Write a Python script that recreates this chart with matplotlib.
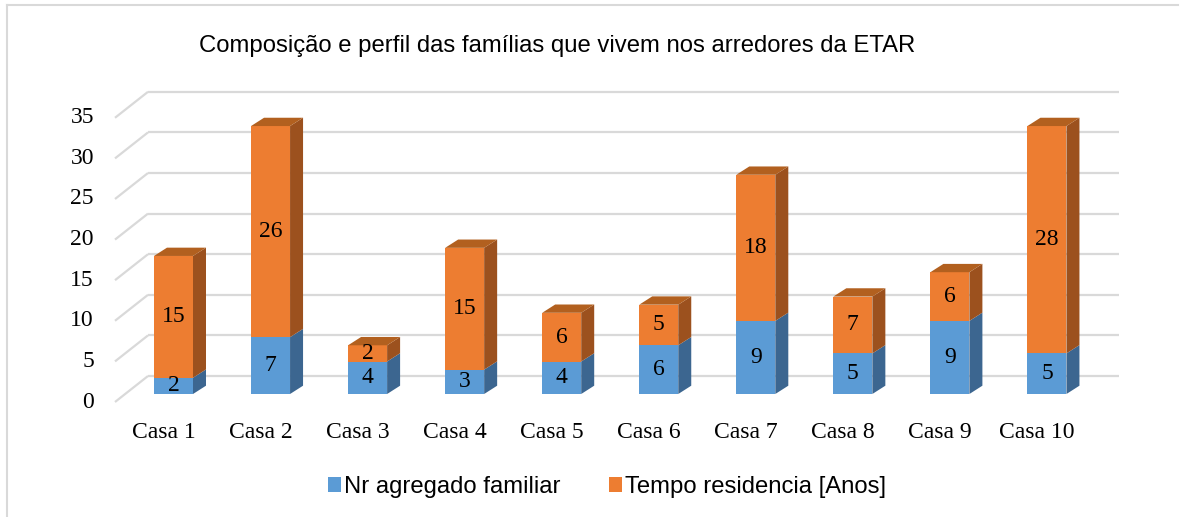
import matplotlib
matplotlib.use("Agg")
import matplotlib.pyplot as plt
from matplotlib.patches import Polygon, Patch
from matplotlib.lines import Line2D

categories = ["Casa 1", "Casa 2", "Casa 3", "Casa 4", "Casa 5",
              "Casa 6", "Casa 7", "Casa 8", "Casa 9", "Casa 10"]
agregado = [2, 7, 4, 3, 4, 6, 9, 5, 9, 5]
tempo = [15, 26, 2, 15, 6, 5, 18, 7, 6, 28]
yticks = [0, 5, 10, 15, 20, 25, 30, 35]
series_names = ["Nr agregado familiar", "Tempo residencia [Anos]"]
title = "Composição e perfil das famílias que vivem nos arredores da ETAR"

W, H = 1188, 517
fig = plt.figure(figsize=(W / 100, H / 100), dpi=100)
ax = fig.add_axes([0, 0, 1, 1])

# pixel mapping helpers (only used to set up the view)
x0px, xsp = 173.5, 97.05
y0px, ysp = 394.0, 8.12
ax.set_xlim((0 - x0px) / xsp, (W - x0px) / xsp)
ax.set_ylim((y0px - H) / ysp, y0px / ysp)
ax.axis("off")

def px_x(p):
    return (p - x0px) / xsp

# 3D geometry (data units)
bw = 39 / xsp
dx = 13 / xsp
dy = 8.3 / ysp
back_dy = (y0px - 376) / ysp
front_dy = (y0px - 402) / ysp
xb0, xb1, xf = px_x(148), px_x(1119), px_x(115)

SERIF = "Liberation Serif"
FS = 17

grid_c = "#d9d9d9"
for v in yticks:
    ax.plot([xf, xb0], [v + front_dy, v + back_dy], color=grid_c, lw=1.6,
            solid_capstyle="butt", zorder=1)
    ax.plot([xb0, xb1], [v + back_dy, v + back_dy], color=grid_c, lw=1.6,
            solid_capstyle="butt", zorder=1)
    ax.text(px_x(94), v + front_dy, str(v), ha="right", va="center",
            fontsize=FS, family=SERIF, color="#000000")

colors = {
    0: ("#5B9BD5", "#3C6690", "#4A7FB0"),
    1: ("#ED7D31", "#9C511E", "#B2601F"),
}

def draw_seg(i, bottom, h, cols, top_face):
    front, side, top = cols
    xl = i - bw / 2
    xr = i + bw / 2
    ax.bar(i, h, bottom=bottom, width=bw, color=front, edgecolor="none", zorder=3)
    ax.add_patch(Polygon([(xr, bottom), (xr + dx, bottom + dy),
                          (xr + dx, bottom + h + dy), (xr, bottom + h)],
                         closed=True, facecolor=side, edgecolor="none", zorder=3))
    if top_face:
        t = bottom + h
        ax.add_patch(Polygon([(xl, t), (xl + dx, t + dy), (xr + dx, t + dy), (xr, t)],
                             closed=True, facecolor=top, edgecolor="none", zorder=3))

for i, (a, t) in enumerate(zip(agregado, tempo)):
    draw_seg(i, 0, a, colors[0], False)
    draw_seg(i, a, t, colors[1], True)
    ax.text(i, a / 2, str(a), ha="center", va="center", fontsize=FS,
            family=SERIF, zorder=4)
    ax.text(i, a + t / 2, str(t), ha="center", va="center", fontsize=FS,
            family=SERIF, zorder=4)
    ax.text(i - 10 / xsp, (y0px - 432) / ysp, categories[i], ha="center",
            va="center", fontsize=FS, family=SERIF)

# title
fig.text(557 / W, 1 - 46 / H, title, ha="center", va="center", fontsize=17.2,
         family="Liberation Sans")

# chart border (left and top)
fig.add_artist(Line2D([7 / W, 7 / W], [0, 1 - 5 / H], color=grid_c, lw=1.5))
fig.add_artist(Line2D([7 / W, 1178 / W], [1 - 5 / H, 1 - 5 / H], color=grid_c, lw=1.5))

handles = [Patch(facecolor=colors[0][0], edgecolor="none"),
           Patch(facecolor=colors[1][0], edgecolor="none")]
fig.legend(handles, series_names, loc="center", ncol=2,
           bbox_to_anchor=(607 / W, 1 - 487 / H), frameon=False,
           prop={"family": "Liberation Sans", "size": 17.2},
           handlelength=0.55, handleheight=0.55, handletextpad=0.15,
           columnspacing=2.0)

fig.savefig("out.png", dpi=100)
